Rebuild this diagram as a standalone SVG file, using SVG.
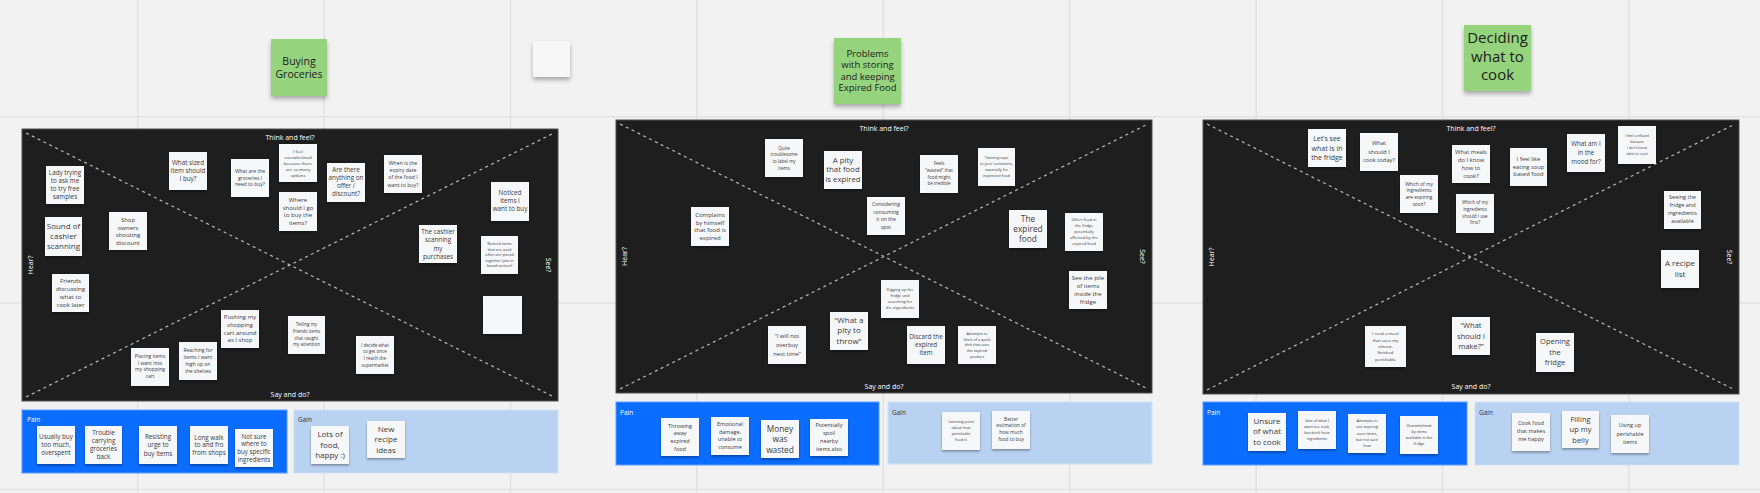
<svg xmlns="http://www.w3.org/2000/svg" width="1760" height="493" viewBox="0 0 1760 493">
<defs>
<filter id="sh" x="-20%" y="-20%" width="140%" height="150%"><feDropShadow dx="0" dy="1.6" stdDeviation="1" flood-color="#000" flood-opacity="0.35"/></filter>
<filter id="shb" x="-20%" y="-20%" width="140%" height="150%"><feDropShadow dx="0" dy="3" stdDeviation="2" flood-color="#000" flood-opacity="0.3"/></filter>
<style>
.grid{stroke:#e2e2e2;stroke-width:1.5}
.panel{fill:#1e1e1e;stroke:#4e4e4e;stroke-width:1}
.diag{stroke:#b8b8b8;stroke-width:1.2;stroke-dasharray:3 3.5;fill:none}
.pain{fill:#0a6dff;stroke:#5a9cff;stroke-width:1}
.gain{fill:#b9d2f2;stroke:#cfe0f6;stroke-width:1}
.st{fill:#f6f7f9;filter:url(#sh)}
.title{fill:#95d47c;filter:url(#shb)}
.blank{fill:#f7f7f7;filter:url(#shb)}
text{font-family:"Open Sans","Noto Sans","Liberation Sans",sans-serif}
.tt{fill:#3a3a3a;text-anchor:middle}
.hd{fill:#1c1c1c;text-anchor:middle}
.lbl{fill:#fff;font-size:7px;text-anchor:middle}
.pl{fill:#fff;font-size:6.5px}
.gl{fill:#333;font-size:6.5px}
</style>
</defs>
<rect x="0" y="0" width="1760" height="493" fill="#f2f2f2"/>
<g id="grid">
<line class="grid" x1="137.7" y1="0" x2="137.7" y2="493"/>
<line class="grid" x1="324.1" y1="0" x2="324.1" y2="493"/>
<line class="grid" x1="510.5" y1="0" x2="510.5" y2="493"/>
<line class="grid" x1="696.9" y1="0" x2="696.9" y2="493"/>
<line class="grid" x1="883.3" y1="0" x2="883.3" y2="493"/>
<line class="grid" x1="1069.7" y1="0" x2="1069.7" y2="493"/>
<line class="grid" x1="1256.1" y1="0" x2="1256.1" y2="493"/>
<line class="grid" x1="1442.5" y1="0" x2="1442.5" y2="493"/>
<line class="grid" x1="1628.9" y1="0" x2="1628.9" y2="493"/>
<line class="grid" x1="0" y1="116.7" x2="1760" y2="116.7"/>
<line class="grid" x1="0" y1="303.1" x2="1760" y2="303.1"/>
<line class="grid" x1="0" y1="489.5" x2="1760" y2="489.5"/>
</g>

<!-- Titles -->
<g id="title-buying"><rect class="title" x="271" y="39" width="56" height="57"/><text class="hd" style="font-size:10.5px" x="299" y="64.7"><tspan x="299">Buying</tspan><tspan x="299" dy="13.4">Groceries</tspan></text></g>
<g id="blank-note"><rect class="blank" x="533" y="41" width="37" height="36"/></g>
<g id="title-problems"><rect class="title" x="834" y="38" width="67" height="66"/><text class="hd" style="font-size:9.5px" x="867.5" y="56.6"><tspan x="867.5">Problems</tspan><tspan x="867.5" dy="11.5">with storing</tspan><tspan x="867.5" dy="11.5">and keeping</tspan><tspan x="867.5" dy="11.3">Expired Food</tspan></text></g>
<g id="title-deciding"><rect class="title" x="1464" y="25" width="67" height="66"/><text class="hd" style="font-size:15px" x="1497.5" y="42.5"><tspan x="1497.5">Deciding</tspan><tspan x="1497.5" dy="19.2">what to</tspan><tspan x="1497.5" dy="18.5">cook</tspan></text></g>

<!-- Panels -->
<g id="panel1">
<rect class="panel" x="22" y="129" width="536" height="272"/>
<text class="lbl" x="290" y="140">Think and feel?</text>
<text class="lbl" x="290" y="397">Say and do?</text>
<text class="lbl" transform="translate(33,265) rotate(-90)">Hear?</text>
<text class="lbl" transform="translate(546,265) rotate(90)">See?</text>
</g>
<g id="panel2">
<rect class="panel" x="616" y="120" width="536" height="273"/>
<text class="lbl" x="884" y="131">Think and feel?</text>
<text class="lbl" x="884" y="389">Say and do?</text>
<text class="lbl" transform="translate(627,256.5) rotate(-90)">Hear?</text>
<text class="lbl" transform="translate(1140,256.5) rotate(90)">See?</text>
</g>
<g id="panel3">
<rect class="panel" x="1203" y="120" width="536" height="274"/>
<text class="lbl" x="1471" y="131">Think and feel?</text>
<text class="lbl" x="1471" y="389">Say and do?</text>
<text class="lbl" transform="translate(1214,257) rotate(-90)">Hear?</text>
<text class="lbl" transform="translate(1727,257) rotate(90)">See?</text>
</g>

<g id="connectors">
<line class="diag" x1="26" y1="133" x2="554" y2="397"/>
<line class="diag" x1="26" y1="397" x2="554" y2="133"/>
<line class="diag" x1="620" y1="124" x2="1148" y2="389"/>
<line class="diag" x1="620" y1="389" x2="1148" y2="124"/>
<line class="diag" x1="1207" y1="124" x2="1735" y2="390"/>
<line class="diag" x1="1207" y1="390" x2="1735" y2="124"/>
</g>

<!-- Pain / Gain -->
<g id="pain1"><rect class="pain" x="22" y="410" width="265" height="63"/><text class="pl" x="27" y="422.3">Pain</text></g>
<g id="gain1"><rect class="gain" x="294" y="410" width="264" height="63"/><text class="gl" x="298" y="422.3">Gain</text></g>
<g id="pain2"><rect class="pain" x="616" y="402" width="263" height="63"/><text class="pl" x="620" y="414.5">Pain</text></g>
<g id="gain2"><rect class="gain" x="888" y="402" width="264" height="62"/><text class="gl" x="892" y="414.5">Gain</text></g>
<g id="pain3"><rect class="pain" x="1203" y="402" width="264" height="63"/><text class="pl" x="1207" y="414.5">Pain</text></g>
<g id="gain3"><rect class="gain" x="1475" y="402" width="264" height="63"/><text class="gl" x="1479" y="414.5">Gain</text></g>

<!-- Panel 1 notes -->
<g id="p1-lady"><rect class="st" x="46" y="166" width="38" height="38"/><text class="tt" style="font-size:6.3px" y="175.3"><tspan x="65">Lady trying</tspan><tspan x="65" dy="8">to ask me</tspan><tspan x="65" dy="8">to try free</tspan><tspan x="65" dy="8">samples</tspan></text></g>
<g id="p1-sound"><rect class="st" x="45" y="217" width="37" height="39"/><text class="tt" style="font-size:8px" y="229.3"><tspan x="63.5">Sound of</tspan><tspan x="63.5" dy="10">cashier</tspan><tspan x="63.5" dy="10">scanning</tspan></text></g>
<g id="p1-shop"><rect class="st" x="109" y="212" width="38" height="38"/><text class="tt" style="font-size:6px" y="221.9"><tspan x="128">Shop</tspan><tspan x="128" dy="7.6">owners</tspan><tspan x="128" dy="7.6">shouting</tspan><tspan x="128" dy="7.6">discount</tspan></text></g>
<g id="p1-sized"><rect class="st" x="169" y="152" width="38" height="38"/><text class="tt" style="font-size:6.3px" y="165.3"><tspan x="188">What sized</tspan><tspan x="188" dy="8">item should</tspan><tspan x="188" dy="8">I buy?</tspan></text></g>
<g id="p1-groceries"><rect class="st" x="231" y="159" width="38" height="38"/><text class="tt" style="font-size:5px" y="173.3"><tspan x="250">What are the</tspan><tspan x="250" dy="6.4">groceries I</tspan><tspan x="250" dy="6.4">need to buy?</tspan></text></g>
<g id="p1-overwhelmed"><rect class="st" x="279" y="144" width="38" height="38"/><text class="tt" style="font-size:4.3px" y="152.8"><tspan x="298">I feel</tspan><tspan x="298" dy="6">overwhelmed</tspan><tspan x="298" dy="6">because there</tspan><tspan x="298" dy="6">are so many</tspan><tspan x="298" dy="6">options</tspan></text></g>
<g id="p1-where"><rect class="st" x="279" y="192" width="38" height="39"/><text class="tt" style="font-size:6px" y="201.9"><tspan x="298">Where</tspan><tspan x="298" dy="7.6">should I go</tspan><tspan x="298" dy="7.6">to buy the</tspan><tspan x="298" dy="7.6">items?</tspan></text></g>
<g id="p1-offer"><rect class="st" x="327" y="163" width="38" height="39"/><text class="tt" style="font-size:6.3px" y="172.3"><tspan x="346">Are there</tspan><tspan x="346" dy="8">anything on</tspan><tspan x="346" dy="8">offer /</tspan><tspan x="346" dy="8">discount?</tspan></text></g>
<g id="p1-expiry"><rect class="st" x="384" y="155" width="38" height="38"/><text class="tt" style="font-size:5.2px" y="165"><tspan x="403">When is the</tspan><tspan x="403" dy="7.2">expiry date</tspan><tspan x="403" dy="7.2">of the food I</tspan><tspan x="403" dy="7.2">want to buy?</tspan></text></g>
<g id="p1-noticed"><rect class="st" x="491" y="182" width="38" height="39"/><text class="tt" style="font-size:6.3px" y="195.3"><tspan x="510">Noticed</tspan><tspan x="510" dy="8">items I</tspan><tspan x="510" dy="8">want to buy</tspan></text></g>
<g id="p1-cashier"><rect class="st" x="419" y="225" width="38" height="38"/><text class="tt" style="font-size:6.3px" y="234.3"><tspan x="438">The cashier</tspan><tspan x="438" dy="8.1">scanning</tspan><tspan x="438" dy="8.1">my</tspan><tspan x="438" dy="8.1">purchases</tspan></text></g>
<g id="p1-placed"><rect class="st" x="481" y="236" width="37" height="38"/><text class="tt" style="font-size:3.8px" y="245.3"><tspan x="499.5">Noticed items</tspan><tspan x="499.5" dy="5.5">that are used</tspan><tspan x="499.5" dy="5.5">often are placed</tspan><tspan x="499.5" dy="5.5">together (jam in</tspan><tspan x="499.5" dy="5.5">bread section)</tspan></text></g>
<g id="p1-blank"><rect class="st" x="483" y="296" width="39" height="38"/></g>
<g id="p1-friends"><rect class="st" x="52" y="274" width="37" height="38"/><text class="tt" style="font-size:6.1px" y="283.2"><tspan x="70.5">Friends</tspan><tspan x="70.5" dy="8">discussing</tspan><tspan x="70.5" dy="8">what to</tspan><tspan x="70.5" dy="8">cook later</tspan></text></g>
<g id="p1-placing"><rect class="st" x="131" y="348" width="38" height="38"/><text class="tt" style="font-size:5px" y="358"><tspan x="150">Placing items</tspan><tspan x="150" dy="6.7">I want into</tspan><tspan x="150" dy="6.7">my shopping</tspan><tspan x="150" dy="6.7">cart</tspan></text></g>
<g id="p1-reaching"><rect class="st" x="179" y="342" width="38" height="38"/><text class="tt" style="font-size:5px" y="351.5"><tspan x="198">Reaching for</tspan><tspan x="198" dy="7.2">items I want</tspan><tspan x="198" dy="7.2">high up on</tspan><tspan x="198" dy="7.2">the shelves</tspan></text></g>
<g id="p1-pushing"><rect class="st" x="221" y="310" width="38" height="38"/><text class="tt" style="font-size:6px" y="319"><tspan x="240">Pushing my</tspan><tspan x="240" dy="7.8">shopping</tspan><tspan x="240" dy="7.8">cart around</tspan><tspan x="240" dy="7.8">as I shop</tspan></text></g>
<g id="p1-telling"><rect class="st" x="288" y="316" width="37" height="38"/><text class="tt" style="font-size:4.5px" y="326.3"><tspan x="306.5">Telling my</tspan><tspan x="306.5" dy="6.7">friends items</tspan><tspan x="306.5" dy="6.7">that caught</tspan><tspan x="306.5" dy="6.7">my attention</tspan></text></g>
<g id="p1-decide"><rect class="st" x="356" y="336" width="38" height="38"/><text class="tt" style="font-size:4.5px" y="346.5"><tspan x="375">I decide what</tspan><tspan x="375" dy="6.7">to get once</tspan><tspan x="375" dy="6.7">I reach the</tspan><tspan x="375" dy="6.7">supermarket</tspan></text></g>

<g id="p1-pain-usually"><rect class="st" x="37" y="426" width="38" height="38"/><text class="tt" style="font-size:6.3px" y="439.3"><tspan x="56">Usually buy</tspan><tspan x="56" dy="7.8">too much,</tspan><tspan x="56" dy="7.8">overspent</tspan></text></g>
<g id="p1-pain-trouble"><rect class="st" x="85" y="426" width="37" height="38"/><text class="tt" style="font-size:6.3px" y="434.8"><tspan x="103.5">Trouble</tspan><tspan x="103.5" dy="8">carrying</tspan><tspan x="103.5" dy="8">groceries</tspan><tspan x="103.5" dy="8">back</tspan></text></g>
<g id="p1-pain-resisting"><rect class="st" x="139" y="426" width="38" height="38"/><text class="tt" style="font-size:6.3px" y="438.5"><tspan x="158">Resisting</tspan><tspan x="158" dy="8.5">urge to</tspan><tspan x="158" dy="8.5">buy items</tspan></text></g>
<g id="p1-pain-walk"><rect class="st" x="190" y="426" width="38" height="38"/><text class="tt" style="font-size:6.3px" y="439.5"><tspan x="209">Long walk</tspan><tspan x="209" dy="7.7">to and fro</tspan><tspan x="209" dy="7.7">from shops</tspan></text></g>
<g id="p1-pain-notsure"><rect class="st" x="235" y="429" width="38" height="38"/><text class="tt" style="font-size:6.2px" y="438.5"><tspan x="254">Not sure</tspan><tspan x="254" dy="7.8">where to</tspan><tspan x="254" dy="7.8">buy specific</tspan><tspan x="254" dy="7.8">ingredients</tspan></text></g>
<g id="p1-gain-lots"><rect class="st" x="311" y="426" width="38" height="38"/><text class="tt" style="font-size:8px" y="437"><tspan x="330">Lots of</tspan><tspan x="330" dy="10.5">food,</tspan><tspan x="330" dy="10.5">happy :)</tspan></text></g>
<g id="p1-gain-recipe"><rect class="st" x="367" y="421" width="38" height="37"/><text class="tt" style="font-size:8px" y="431.8"><tspan x="386">New</tspan><tspan x="386" dy="10.5">recipe</tspan><tspan x="386" dy="10.5">ideas</tspan></text></g>

<!-- Panel 2 notes -->
<g id="p2-label"><rect class="st" x="765" y="139" width="38" height="38"/><text class="tt" style="font-size:4.5px" y="149.6"><tspan x="784">Quite</tspan><tspan x="784" dy="6.7">troublesome</tspan><tspan x="784" dy="6.7">to label my</tspan><tspan x="784" dy="6.7">items</tspan></text></g>
<g id="p2-pity"><rect class="st" x="824" y="151" width="38" height="38"/><text class="tt" style="font-size:7.8px" y="163"><tspan x="843">A pity</tspan><tspan x="843" dy="9.3">that food</tspan><tspan x="843" dy="9.3">is expired</tspan></text></g>
<g id="p2-complains"><rect class="st" x="691" y="207" width="38" height="39"/><text class="tt" style="font-size:6px" y="216.6"><tspan x="710">Complains</tspan><tspan x="710" dy="7.9">by himself</tspan><tspan x="710" dy="7.9">that food is</tspan><tspan x="710" dy="7.9">expired</tspan></text></g>
<g id="p2-considering"><rect class="st" x="867" y="197" width="38" height="38"/><text class="tt" style="font-size:5px" y="206.3"><tspan x="886">Considering</tspan><tspan x="886" dy="7.4">consuming</tspan><tspan x="886" dy="7.4">it on the</tspan><tspan x="886" dy="7.4">spot</tspan></text></g>
<g id="p2-wasted"><rect class="st" x="920" y="155" width="38" height="38"/><text class="tt" style="font-size:4.5px" y="165.3"><tspan x="939">Feels</tspan><tspan x="939" dy="6.7">“wasted” that</tspan><tspan x="939" dy="6.7">food might</tspan><tspan x="939" dy="6.7">be inedible</tspan></text></g>
<g id="p2-caps"><rect class="st" x="978" y="148" width="37" height="38"/><text class="tt" style="font-size:3.8px" y="159.4"><tspan x="996.5">Twisting caps</tspan><tspan x="996.5" dy="5.8">to jars/ containers,</tspan><tspan x="996.5" dy="5.8">especially for</tspan><tspan x="996.5" dy="5.8">expensive food</tspan></text></g>
<g id="p2-expired"><rect class="st" x="1009" y="210" width="38" height="38"/><text class="tt" style="font-size:8.3px" y="221.6"><tspan x="1028">The</tspan><tspan x="1028" dy="10.3">expired</tspan><tspan x="1028" dy="10.3">food</tspan></text></g>
<g id="p2-other"><rect class="st" x="1065" y="213" width="38" height="38"/><text class="tt" style="font-size:4px" y="221"><tspan x="1084">Other food in</tspan><tspan x="1084" dy="6">the fridge</tspan><tspan x="1084" dy="6">potentially</tspan><tspan x="1084" dy="6">affected by the</tspan><tspan x="1084" dy="6">expired food</tspan></text></g>
<g id="p2-digging"><rect class="st" x="881" y="280" width="38" height="38"/><text class="tt" style="font-size:4px" y="291.2"><tspan x="900">Digging up the</tspan><tspan x="900" dy="6">fridge and</tspan><tspan x="900" dy="6">searching for</tspan><tspan x="900" dy="6">the ingredients</tspan></text></g>
<g id="p2-pile"><rect class="st" x="1069" y="271" width="38" height="38"/><text class="tt" style="font-size:6px" y="280.2"><tspan x="1088">See the pile</tspan><tspan x="1088" dy="7.8">of items</tspan><tspan x="1088" dy="7.8">inside the</tspan><tspan x="1088" dy="7.8">fridge</tspan></text></g>
<g id="p2-discard"><rect class="st" x="907" y="326" width="38" height="38"/><text class="tt" style="font-size:6.3px" y="339.2"><tspan x="926">Discard the</tspan><tspan x="926" dy="7.8">expired</tspan><tspan x="926" dy="7.8">item</tspan></text></g>
<g id="p2-attempts"><rect class="st" x="958" y="326" width="38" height="38"/><text class="tt" style="font-size:3.8px" y="334.8"><tspan x="977">Attempts to</tspan><tspan x="977" dy="5.7">think of a quick</tspan><tspan x="977" dy="5.7">dish that uses</tspan><tspan x="977" dy="5.7">the expired</tspan><tspan x="977" dy="5.7">product</tspan></text></g>
<g id="p2-overbuy"><rect class="st" x="768" y="326" width="38" height="38"/><text class="tt" style="font-size:5.8px" y="338"><tspan x="787">“I will not</tspan><tspan x="787" dy="9">overbuy</tspan><tspan x="787" dy="9">next time”</tspan></text></g>
<g id="p2-throw"><rect class="st" x="830" y="312" width="38" height="38"/><text class="tt" style="font-size:8px" y="322.8"><tspan x="849">“What a</tspan><tspan x="849" dy="10.5">pity to</tspan><tspan x="849" dy="10.5">throw”</tspan></text></g>

<g id="p2-pain-throwing"><rect class="st" x="661" y="418" width="38" height="38"/><text class="tt" style="font-size:5.5px" y="427.5"><tspan x="680">Throwing</tspan><tspan x="680" dy="7.9">away</tspan><tspan x="680" dy="7.9">expired</tspan><tspan x="680" dy="7.9">food</tspan></text></g>
<g id="p2-pain-emotional"><rect class="st" x="711" y="417" width="38" height="38"/><text class="tt" style="font-size:5.5px" y="425.6"><tspan x="730">Emotional</tspan><tspan x="730" dy="7.9">damage,</tspan><tspan x="730" dy="7.9">unable to</tspan><tspan x="730" dy="7.9">consume</tspan></text></g>
<g id="p2-pain-money"><rect class="st" x="761" y="420" width="38" height="38"/><text class="tt" style="font-size:8.3px" y="431.9"><tspan x="780">Money</tspan><tspan x="780" dy="10.3">was</tspan><tspan x="780" dy="10.3">wasted</tspan></text></g>
<g id="p2-pain-spoil"><rect class="st" x="810" y="419" width="38" height="37"/><text class="tt" style="font-size:5.5px" y="427.3"><tspan x="829">Potentially</tspan><tspan x="829" dy="8">spoil</tspan><tspan x="829" dy="8">nearby</tspan><tspan x="829" dy="8">items also</tspan></text></g>
<g id="p2-gain-learning"><rect class="st" x="942" y="412" width="38" height="38"/><text class="tt" style="font-size:3.8px" y="423"><tspan x="961">Learning point</tspan><tspan x="961" dy="6">about how</tspan><tspan x="961" dy="6">perishable</tspan><tspan x="961" dy="6">food is</tspan></text></g>
<g id="p2-gain-better"><rect class="st" x="992" y="411" width="38" height="38"/><text class="tt" style="font-size:4.8px" y="420.6"><tspan x="1011">Better</tspan><tspan x="1011" dy="6.7">estimation of</tspan><tspan x="1011" dy="6.7">how much</tspan><tspan x="1011" dy="6.7">food to buy</tspan></text></g>

<!-- Panel 3 notes -->
<g id="p3-letssee"><rect class="st" x="1308" y="129" width="38" height="38"/><text class="tt" style="font-size:7px" y="141.2"><tspan x="1327">Let’s see</tspan><tspan x="1327" dy="9.3">what is in</tspan><tspan x="1327" dy="9.3">the fridge</tspan></text></g>
<g id="p3-today"><rect class="st" x="1360" y="133" width="38" height="38"/><text class="tt" style="font-size:5.8px" y="145.3"><tspan x="1379">What</tspan><tspan x="1379" dy="8.2">should I</tspan><tspan x="1379" dy="8.2">cook today?</tspan></text></g>
<g id="p3-expiring"><rect class="st" x="1400" y="175" width="38" height="38"/><text class="tt" style="font-size:4.8px" y="185.7"><tspan x="1419">Which of my</tspan><tspan x="1419" dy="6.6">ingredients</tspan><tspan x="1419" dy="6.6">are expiring</tspan><tspan x="1419" dy="6.6">soon?</tspan></text></g>
<g id="p3-meals"><rect class="st" x="1452" y="145" width="38" height="38"/><text class="tt" style="font-size:5.8px" y="153.8"><tspan x="1471">What meals</tspan><tspan x="1471" dy="7.9">do I know</tspan><tspan x="1471" dy="7.9">how to</tspan><tspan x="1471" dy="7.9">cook?</tspan></text></g>
<g id="p3-first"><rect class="st" x="1456" y="194" width="38" height="39"/><text class="tt" style="font-size:4.5px" y="204.4"><tspan x="1475">Which of my</tspan><tspan x="1475" dy="6.6">ingredients</tspan><tspan x="1475" dy="6.6">should I use</tspan><tspan x="1475" dy="6.6">first?</tspan></text></g>
<g id="p3-soup"><rect class="st" x="1510" y="148" width="37" height="38"/><text class="tt" style="font-size:5.8px" y="160.8"><tspan x="1528.5">I feel like</tspan><tspan x="1528.5" dy="7.8">eating soup</tspan><tspan x="1528.5" dy="7.8">based food</tspan></text></g>
<g id="p3-mood"><rect class="st" x="1567" y="134" width="38" height="38"/><text class="tt" style="font-size:6.2px" y="146"><tspan x="1586">What am I</tspan><tspan x="1586" dy="8.8">in the</tspan><tspan x="1586" dy="8.8">mood for?</tspan></text></g>
<g id="p3-confused"><rect class="st" x="1618" y="126" width="38" height="38"/><text class="tt" style="font-size:3.5px" y="136.7"><tspan x="1637">I feel confused</tspan><tspan x="1637" dy="6">because</tspan><tspan x="1637" dy="6">I don’t know</tspan><tspan x="1637" dy="6">what to cook</tspan></text></g>
<g id="p3-seeing"><rect class="st" x="1664" y="191" width="37" height="38"/><text class="tt" style="font-size:5.5px" y="199.4"><tspan x="1682.5">Seeing the</tspan><tspan x="1682.5" dy="7.9">fridge and</tspan><tspan x="1682.5" dy="7.9">ingredients</tspan><tspan x="1682.5" dy="7.9">available</tspan></text></g>
<g id="p3-recipe"><rect class="st" x="1661" y="250" width="38" height="38"/><text class="tt" style="font-size:8px" y="266"><tspan x="1680">A recipe</tspan><tspan x="1680" dy="11.3">list</tspan></text></g>
<g id="p3-cookmeal"><rect class="st" x="1365" y="326" width="41" height="41"/><text class="tt" style="font-size:4.3px" y="335.2"><tspan x="1385.5">I cook a meal</tspan><tspan x="1385.5" dy="6.4">that uses my</tspan><tspan x="1385.5" dy="6.4">almost-</tspan><tspan x="1385.5" dy="6.4">finished</tspan><tspan x="1385.5" dy="6.4">perishable</tspan></text></g>
<g id="p3-make"><rect class="st" x="1452" y="317" width="38" height="38"/><text class="tt" style="font-size:7.5px" y="328.3"><tspan x="1471">“What</tspan><tspan x="1471" dy="10.3">should I</tspan><tspan x="1471" dy="10.3">make?”</tspan></text></g>
<g id="p3-opening"><rect class="st" x="1536" y="333" width="38" height="39"/><text class="tt" style="font-size:7.5px" y="344.4"><tspan x="1555">Opening</tspan><tspan x="1555" dy="10.3">the</tspan><tspan x="1555" dy="10.3">fridge</tspan></text></g>

<g id="p3-pain-unsure"><rect class="st" x="1248" y="413" width="38" height="38"/><text class="tt" style="font-size:8px" y="423.8"><tspan x="1267">Unsure</tspan><tspan x="1267" dy="10.5">of what</tspan><tspan x="1267" dy="10.5">to cook</tspan></text></g>
<g id="p3-pain-idea"><rect class="st" x="1298" y="411" width="38" height="38"/><text class="tt" style="font-size:3.8px" y="422"><tspan x="1317">Idea of what I</tspan><tspan x="1317" dy="6">want too cook,</tspan><tspan x="1317" dy="6">but don’t have</tspan><tspan x="1317" dy="6">ingredients</tspan></text></g>
<g id="p3-pain-attempts"><rect class="st" x="1348" y="414" width="38" height="39"/><text class="tt" style="font-size:3.8px" y="422"><tspan x="1367">Attempts to</tspan><tspan x="1367" dy="6.3">use expiring</tspan><tspan x="1367" dy="6.3">soon items,</tspan><tspan x="1367" dy="6.3">but not sure</tspan><tspan x="1367" dy="6.3">how</tspan></text></g>
<g id="p3-pain-overwhelmed"><rect class="st" x="1400" y="416" width="38" height="38"/><text class="tt" style="font-size:3.8px" y="426.7"><tspan x="1419">Overwhelmed</tspan><tspan x="1419" dy="6.1">by items</tspan><tspan x="1419" dy="6.1">available in the</tspan><tspan x="1419" dy="6.1">fridge</tspan></text></g>
<g id="p3-gain-happy"><rect class="st" x="1512" y="413" width="38" height="38"/><text class="tt" style="font-size:5.5px" y="425.4"><tspan x="1531">Cook food</tspan><tspan x="1531" dy="7.8">that makes</tspan><tspan x="1531" dy="7.8">me happy</tspan></text></g>
<g id="p3-gain-belly"><rect class="st" x="1562" y="411" width="37" height="37"/><text class="tt" style="font-size:7.5px" y="421.6"><tspan x="1580.5">Filling</tspan><tspan x="1580.5" dy="10.5">up my</tspan><tspan x="1580.5" dy="10.5">belly</tspan></text></g>
<g id="p3-gain-using"><rect class="st" x="1611" y="415" width="38" height="38"/><text class="tt" style="font-size:5.5px" y="427.2"><tspan x="1630">Using up</tspan><tspan x="1630" dy="8.3">perishable</tspan><tspan x="1630" dy="8.3">items</tspan></text></g>
</svg>
